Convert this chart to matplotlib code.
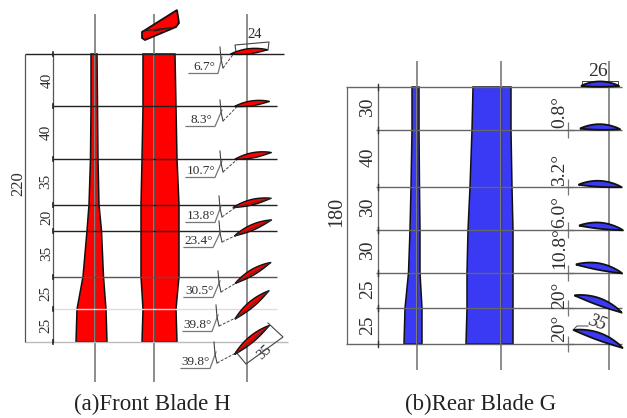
import numpy as np
import matplotlib
matplotlib.use("Agg")
import matplotlib.pyplot as plt

plt.rcParams["font.family"] = ["Liberation Serif", "DejaVu Serif"]

# front blade H
front_spans = [40, 40, 35, 20, 35, 25, 25]
front_total = 220
front_angles = [6.7, 8.3, 10.7, 13.8, 23.4, 30.5, 39.8, 39.8]
front_thick_l = [91, 91, 90.5, 89, 87, 83, 77, 76]
front_thick_r = [97, 97.5, 98, 99, 101.5, 103.5, 106, 107]
front_chord_l = [143, 143, 142, 141, 141, 141, 143, 142]
front_chord_r = [175, 176, 177, 179, 179, 179, 176, 177]
front_foil_len = [37, 35, 37, 39, 40, 41, 44, 45]

# rear blade G
rear_spans = [30, 40, 30, 30, 25, 25]
rear_total = 180
rear_angles = [0.8, 3.2, 6.0, 10.8, 20, 20]
rear_angle_text = ["0.8°", "3.2°", "6.0°", "10.8°", "20°", "20°"]
rear_thick_l = [412, 412, 411, 410, 408.5, 405, 404]
rear_thick_r = [419, 419, 419.5, 420, 420, 422, 422]
rear_chord_l = [473, 472, 470, 468, 467, 467, 466]
rear_chord_r = [511, 511, 512, 513, 513, 513, 513]
rear_foil_len = [38, 40, 43, 44, 47, 50, 52]

RED = "#ff0000"
BLUE = "#3a3af5"
GREY = "#8c8c8c"
INK = "#2e2e2e"

fig = plt.figure(figsize=(6.27, 4.18), dpi=100)
ax = fig.add_axes([0, 0, 1, 1])
ax.set_xlim(0, 627)
ax.set_ylim(418, 0)
ax.axis("off")


def stations(spans, y0, y1):
    cum = np.concatenate([[0], np.cumsum(spans)])
    return y0 + cum * (y1 - y0) / cum[-1]


def blade(left, right, ys, color):
    xs = list(left) + list(right)[::-1]
    yy = list(ys) + list(ys)[::-1]
    ax.fill(xs, yy, facecolor=color, edgecolor="#111111", lw=1.1, zorder=2)


def foil(cx, cy, length, angle, color, top=0.11, bot=0.02, lw=1.0, chord_line=False):
    t = np.linspace(0, 1, 40)
    s = (t - 0.5) * length
    upper = length * top * np.sin(np.pi * t) ** 0.8
    lower = -length * bot * np.sin(np.pi * t)
    px = np.concatenate([s, s[::-1]])
    py = np.concatenate([upper, lower[::-1]])
    a = np.radians(angle)
    x = cx + px * np.cos(a) - py * np.sin(a)
    y = cy - px * np.sin(a) - py * np.cos(a)
    ax.fill(x, y, facecolor=color, edgecolor="#111111", lw=lw, zorder=4)
    if chord_line:
        ax.plot([cx - s[-1] * np.cos(a), cx + s[-1] * np.cos(a)],
                [cy + s[-1] * np.sin(a), cy - s[-1] * np.sin(a)],
                color="#333333", lw=0.6, zorder=5)


def vline(x, y0, y1, color=GREY, lw=1.4):
    ax.plot([x, x], [y0, y1], color=color, lw=lw, zorder=3, solid_capstyle="butt")


def hline(x0, x1, y, color="#222222", lw=1.0):
    ax.plot([x0, x1], [y, y], color=color, lw=lw, zorder=3, solid_capstyle="butt")


# ---- front
fy = stations(front_spans, 54, 342)
for x in (95, 154, 247):
    vline(x, 14, 382)
blade(front_thick_l, front_thick_r, fy, RED)
blade(front_chord_l, front_chord_r, fy, RED)
for x in (95, 154):
    vline(x, 54, 342, color="#555555", lw=1.0)

line_end = [284, 277, 277, 277, 277, 277, 277, 288]
line_col = ["#222222"] * 5 + ["#555555", "#dddddd", "#bbbbbb"]
for i, y in enumerate(fy):
    hline(25 if i in (0, 7) else 53, line_end[i], y, line_col[i])

vline(25, 54, 342, color="#555555", lw=0.9)
vline(53, 54, 342, color="#555555", lw=0.9)
for y in fy:
    ax.plot([53, 53], [y - 2, y + 2], color="#222222", lw=1.2, zorder=3)
ax.text(18, 184, str(front_total), rotation=90, ha="center", va="center",
        fontsize=12, color=INK)
span_x = [47, 46, 46, 47, 47, 46, 46]
for i, v in enumerate(front_spans):
    ax.text(span_x[i], (fy[i] + fy[i + 1]) / 2, str(v), rotation=90, ha="center",
            va="center", fontsize=11, color=INK)

# twisted tip above the blade
tip_x = [142, 177, 179, 176, 145, 142]
tip_y = [32, 10, 23, 27, 40, 38]
ax.fill(tip_x, tip_y, facecolor=RED, edgecolor="#111111", lw=1.3, zorder=4)
ax.plot([143, 176, 154], [31, 27, 31], color="#222222", lw=0.8, zorder=5)

foil_fx = [249, 252, 253, 252, 253, 253, 252, 252]
foil_fy = [52, 104, 156, 203, 228, 273, 305, 340]
label_fx = [204, 201, 201, 201, 199, 199, 198, 196]
label_fy = [67, 120, 171, 216, 241, 291, 325, 362]
tick_x = [220, 220, 220, 219, 219, 218, 216, 214]
for i, ang in enumerate(front_angles):
    foil(foil_fx[i], foil_fy[i], front_foil_len[i], ang, RED, top=0.09, bot=0.05,
         chord_line=i > 2)
    lx, ly = label_fx[i], label_fy[i]
    ax.text(lx, ly, f"{ang}°", ha="center", va="center", fontsize=9.5, color=INK)
    # underline, leader and angle tick
    ax.plot([lx - 15, lx + 14, tick_x[i] + 2], [ly + 6.5, ly + 6.5, ly - 10],
            color="#777777", lw=0.9, zorder=3)
    ax.plot([tick_x[i], tick_x[i] + 1, tick_x[i] + 3], [ly - 20, ly - 8, ly + 1],
            color="#444444", lw=0.8, zorder=3)
    ax.plot([tick_x[i] + 3, foil_fx[i] - front_foil_len[i] * 0.42 * np.cos(np.radians(ang))],
            [ly + 1, foil_fy[i] + front_foil_len[i] * 0.42 * np.sin(np.radians(ang))],
            color="#444444", lw=0.7, ls=(0, (3, 1.5)), zorder=3)

# chord dimensions, front
ax.plot([236, 235, 269, 268], [52, 45, 42, 50], color="#444444", lw=0.8, zorder=3)
ax.text(255, 35, "24", ha="center", va="center", fontsize=10.5, color=INK)
ax.plot([268, 283, 246, 236], [323, 337, 364, 352], color="#444444", lw=0.8, zorder=3)
ax.text(264, 352, "35", rotation=42, ha="center", va="center", fontsize=10.5, color=INK)

ax.text(152, 404, "(a)Front Blade H", ha="center", va="center", fontsize=16.5, color="#222222")

# ---- rear
ry = stations(rear_spans, 87, 344)
for x in (417, 501, 609):
    vline(x, 61, 370)
blade(rear_thick_l, rear_thick_r, ry, BLUE)
blade(rear_chord_l, rear_chord_r, ry, BLUE)
for x in (417, 501):
    vline(x, 87, 344, color="#444444", lw=1.0)

for i, y in enumerate(ry):
    hline(346 if i in (0, 6) else 376, 622, y, "#666666", lw=1.0)
vline(347, 87, 344, color="#666666", lw=0.9)
vline(378, 87, 344, color="#666666", lw=0.9)
for y in ry:
    ax.plot([378, 378], [y - 3, y + 3], color="#333333", lw=1.0, zorder=3)
ax.text(337, 212, str(rear_total), rotation=90, ha="center", va="center",
        fontsize=14.5, color=INK)
for i, v in enumerate(rear_spans):
    ax.text(368, (ry[i] + ry[i + 1]) / 2 - 1, str(v), rotation=90, ha="center",
            va="center", fontsize=14, color=INK)

foil_rx = [600, 600, 600, 601, 599, 598, 598]
foil_ry = [86, 129, 186, 228, 269, 304, 339]
label_rx = [560, 560, 560, 560, 560, 560]
label_ry = [112, 170, 212, 248, 295, 328]
for i, L in enumerate(rear_foil_len):
    ang = 0 if i == 0 else -rear_angles[i - 1]
    foil(foil_rx[i], foil_ry[i], L, ang, BLUE, top=0.12, bot=0.02, lw=1.3)
for i, txt in enumerate(rear_angle_text):
    ax.text(label_rx[i], label_ry[i], txt, rotation=90, ha="center", va="center",
            fontsize=14, color=INK)
    vline(568, ry[i + 1] - 8, ry[i + 1] + 8, color="#777777", lw=0.9)
    hline(566, 574, ry[i + 1], "#666666", lw=0.9)

ax.plot([582, 582, 618, 618], [86, 81, 81, 86], color="#444444", lw=0.7, zorder=3)
ax.text(598, 72, "26", ha="center", va="center", fontsize=14, color=INK)
ax.plot([573, 577, 588], [330, 326, 326], color="#444444", lw=0.7, zorder=3)
ax.text(597, 323, "35", rotation=-20, ha="center", va="center", fontsize=13,
        style="italic", color=INK)

ax.text(481, 404, "(b)Rear Blade G", ha="center", va="center", fontsize=16.5, color="#222222")

fig.savefig("out.png", dpi=100)
